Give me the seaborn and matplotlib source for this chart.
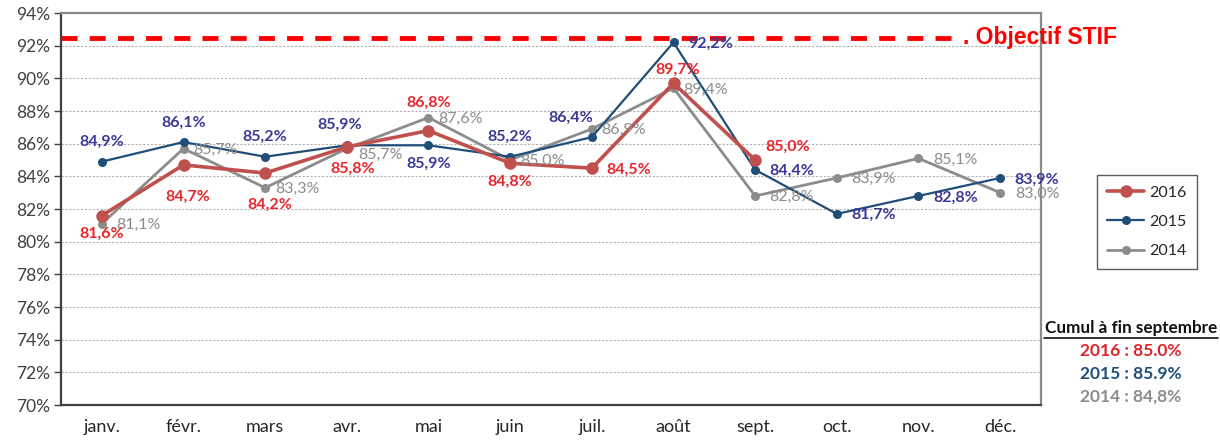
import matplotlib
matplotlib.use("Agg")
import matplotlib.pyplot as plt
from matplotlib.lines import Line2D
import numpy as np
import pandas as pd
import seaborn as sns

months = ["janv.", "févr.", "mars", "avr.", "mai", "juin",
          "juil.", "août", "sept.", "oct.", "nov.", "déc."]
vals_2016 = [81.6, 84.7, 84.2, 85.8, 86.8, 84.8, 84.5, 89.7, 85.0]
vals_2015 = [84.9, 86.1, 85.2, 85.9, 85.9, 85.2, 86.4, 92.2, 84.4, 81.7, 82.8, 83.9]
vals_2014 = [81.1, 85.7, 83.3, 85.7, 87.6, 85.0, 86.9, 89.4, 82.8, 83.9, 85.1, 83.0]
objectif = 92.5
cumul_title = "Cumul à fin septembre"
cumul_lines = ["2016 : 85.0%", "2015 : 85.9%", "2014 : 84,8%"]

# where each data label sits relative to its point
place_2016 = ["below", "below_far", "below_far", "below_r", "above_far", "below",
              "right_far", "above_low", "above_right"]
place_2015 = ["above", "above", "above", "above_l", "below", "above", "above_left",
              "right_far", "right_far", "right_far", "right_far", "right_far"]
place_2014 = ["right_far", "right", "right", "right_down", "right", "right",
              "right", "right", "right_far", "right_far", "right_far", "right_far"]

# (dx, dy) in points, label anchored by its centre vertically
OFFSETS = {
    "above": (0, 14, "center"),
    "above_l": (-5, 14.5, "center"),
    "above_far": (0, 20, "center"),
    "above_low": (3, 9.5, "center"),
    "above_left": (-15, 14, "center"),
    "above_right": (7, 9.5, "left"),
    "below": (0, -13.5, "center"),
    "below_r": (4, -16, "center"),
    "below_far": (3, -23, "center"),
    "right": (7, -1, "left"),
    "right_down": (8, -4.5, "left"),
    "right_far": (10.5, -1, "left"),
}

sns.set_style("white")
plt.rcParams["font.family"] = ["Lato", "DejaVu Sans"]

fig = plt.figure(figsize=(12.2, 4.41), dpi=100)
ax = fig.add_axes([61 / 1220, 1 - 405 / 441, 980 / 1220, 392 / 441])

series = [
    ("2014", vals_2014, "#8c8c8c", "#8c8c8c", 2.0, 6.5, "normal", place_2014),
    ("2015", vals_2015, "#1f4e79", "#3a3a96", 1.6, 6.5, "bold", place_2015),
    ("2016", vals_2016, "#c0504d", "#e8262b", 2.6, 9, "bold", place_2016),
]

handles = {}
for z, (name, vals, color, lcolor, lw, ms, weight, places) in enumerate(series):
    df = pd.DataFrame({"x": np.arange(len(vals)), "v": vals})
    sns.lineplot(data=df, x="x", y="v", ax=ax, color=color, linewidth=lw,
                 marker="o", markersize=ms, markeredgewidth=0, zorder=3 + z)
    handles[name] = ax.lines[-1]
    for i, v in enumerate(vals):
        dx, dy, ha = OFFSETS[places[i]]
        ax.annotate(f"{v:.1f}%".replace(".", ","), (i, v), xytext=(dx, dy),
                    textcoords="offset points", ha=ha, va="center", fontsize=11.5,
                    color=lcolor, fontweight=weight, zorder=10)

# objective line
ax.plot([-0.5, 10.5], [objectif, objectif], color="#ff0000", linewidth=3.5,
        dashes=(3.3, 2.5), zorder=2, clip_on=False)
ax.text(10.55, objectif, ". Objectif STIF", color="#ff0000", fontsize=16.5,
        fontweight="bold", family="Liberation Sans", ha="left", va="center",
        zorder=11, clip_on=False)

ax.set_xlim(-0.5, 11.5)
ax.set_ylim(70, 94)
ax.set_yticks(np.arange(70, 95, 2))
ax.set_yticklabels([f"{t}%" for t in range(70, 95, 2)])
ax.set_xticks(np.arange(12))
ax.set_xticklabels(months)
ax.set_xticks(np.arange(-0.5, 12, 1), minor=True)
ax.tick_params(axis="x", which="major", length=0, pad=10, labelsize=13, labelcolor="#262626")
ax.tick_params(axis="x", which="minor", length=5, width=1, direction="out", color="#404040")
ax.tick_params(axis="y", length=5, width=1, direction="out", color="#404040",
               labelsize=12.5, labelcolor="#404040", pad=3, left=True)
ax.set_xlabel("")
ax.set_ylabel("")
ax.yaxis.grid(True, linestyle=(0, (2, 1.5)), color="#b0b0b0", linewidth=0.8)
ax.set_axisbelow(True)
for side in ["left", "bottom"]:
    ax.spines[side].set_color("#404040")
    ax.spines[side].set_linewidth(1.6)
for side in ["top", "right"]:
    ax.spines[side].set_color("#8a8a8a")
    ax.spines[side].set_linewidth(1.6)

leg = fig.legend([handles["2016"], handles["2015"], handles["2014"]],
                 ["2016", "2015", "2014"],
                 loc="upper left", bbox_to_anchor=(1097 / 1220, 1 - 175 / 441),
                 borderaxespad=0, frameon=True, fancybox=False, edgecolor="#333333",
                 fontsize=11.5, handlelength=2.3, labelspacing=0.95,
                 borderpad=0.65, handletextpad=0.3)
leg.get_frame().set_linewidth(1.0)

# cumul block
cx = 1131 / 1220
fig.text(cx, 1 - 328 / 441, cumul_title, ha="center", va="center",
         fontsize=12.3, fontweight="bold", color="#111111")
fig.add_artist(Line2D([1044 / 1220, 1218 / 1220], [1 - 338 / 441] * 2,
                      color="#111111", linewidth=1.2))
for txt, col, yy in zip(cumul_lines, ["#d9262b", "#1f4e79", "#8c8c8c"], [351, 374, 397]):
    fig.text(cx, 1 - yy / 441, txt, ha="center", va="center", fontsize=12.5,
             fontweight="bold", color=col)

fig.savefig("out.png", dpi=100)
